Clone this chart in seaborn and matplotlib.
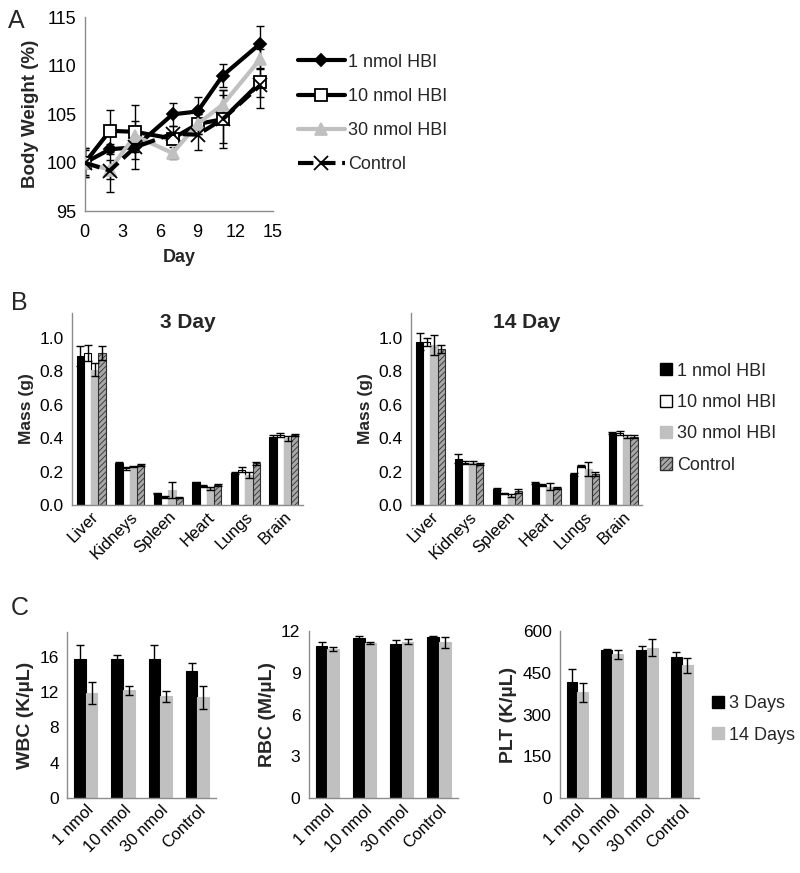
import numpy as np
import pandas as pd
import matplotlib
matplotlib.use('Agg')
import matplotlib.pyplot as plt
import seaborn as sns
from matplotlib.patches import Patch

sns.set_style('white')
plt.rcParams['font.family'] = ['Liberation Sans', 'DejaVu Sans']
plt.rcParams['hatch.linewidth'] = 0.6

# Panel A - body weight over time
days = [0, 2, 4, 7, 9, 11, 14]
bw_1nmol = [100.0, 101.4, 101.6, 105.0, 105.3, 109.0, 112.3]
bw_1nmol_err = [1.3, 0.5, 0.5, 1.2, 1.5, 1.2, 1.8]
bw_10nmol = [100.0, 103.3, 103.2, 102.5, 104.0, 104.5, 108.3]
bw_10nmol_err = [1.5, 2.2, 2.8, 0.5, 1.0, 3.0, 1.5]
bw_30nmol = [100.0, 99.3, 102.8, 101.0, 104.0, 106.0, 110.7]
bw_30nmol_err = [0.5, 1.0, 1.5, 0.6, 1.0, 1.5, 1.0]
bw_control = [100.0, 99.2, 101.6, 103.0, 102.9, 104.5, 108.0]
bw_control_err = [1.5, 2.2, 2.2, 0.8, 1.6, 2.5, 2.3]

# Panel B - organ mass
organs = ['Liver', 'Kidneys', 'Spleen', 'Heart', 'Lungs', 'Brain']
treatments = ['1 nmol HBI', '10 nmol HBI', '30 nmol HBI', 'Control']
mass3_1nmol = [0.89, 0.25, 0.07, 0.135, 0.19, 0.41]
mass3_10nmol = [0.91, 0.22, 0.05, 0.115, 0.21, 0.42]
mass3_30nmol = [0.81, 0.23, 0.09, 0.10, 0.18, 0.40]
mass3_control = [0.91, 0.24, 0.045, 0.12, 0.25, 0.42]
mass3_1nmol_err = [0.06, 0.005, 0.005, 0.005, 0.005, 0.01]
mass3_10nmol_err = [0.05, 0.01, 0.005, 0.005, 0.015, 0.01]
mass3_30nmol_err = [0.04, 0.005, 0.045, 0.01, 0.02, 0.015]
mass3_control_err = [0.04, 0.005, 0.005, 0.005, 0.01, 0.005]

mass14_1nmol = [0.978, 0.278, 0.095, 0.13, 0.183, 0.43]
mass14_10nmol = [0.978, 0.254, 0.07, 0.12, 0.235, 0.43]
mass14_30nmol = [0.96, 0.254, 0.056, 0.11, 0.215, 0.41]
mass14_control = [0.936, 0.246, 0.085, 0.10, 0.185, 0.41]
mass14_1nmol_err = [0.05, 0.028, 0.005, 0.005, 0.01, 0.005]
mass14_10nmol_err = [0.025, 0.01, 0.005, 0.005, 0.005, 0.012]
mass14_30nmol_err = [0.06, 0.01, 0.01, 0.02, 0.04, 0.01]
mass14_control_err = [0.025, 0.005, 0.01, 0.005, 0.01, 0.01]

# Panel C - blood counts
doses = ['1 nmol', '10 nmol', '30 nmol', 'Control']
timepoints = ['3 Days', '14 Days']
wbc_3d = [15.7, 15.7, 15.7, 14.4]
wbc_3d_err = [1.6, 0.5, 1.6, 0.9]
wbc_14d = [11.9, 12.2, 11.5, 11.4]
wbc_14d_err = [1.2, 0.5, 0.6, 1.3]
rbc_3d = [10.9, 11.5, 11.1, 11.6]
rbc_3d_err = [0.35, 0.15, 0.3, 0.05]
rbc_14d = [10.7, 11.15, 11.25, 11.2]
rbc_14d_err = [0.15, 0.1, 0.2, 0.4]
plt_3d = [418, 532, 534, 508]
plt_3d_err = [45, 5, 13, 16]
plt_14d = [380, 517, 541, 478]
plt_14d_err = [35, 16, 31, 27]

AXGRAY = '#8c8c8c'
LIGHT = '#c0c0c0'


def style_axes(ax, size=12):
    sns.despine(ax=ax)
    for s in ['left', 'bottom']:
        ax.spines[s].set_color(AXGRAY)
        ax.spines[s].set_linewidth(1.0)
    ax.tick_params(axis='both', which='both', direction='out', color=AXGRAY,
                   labelsize=size, labelcolor='black')
    ax.tick_params(axis='y', length=4, width=1, pad=2)


def grouped_bars(ax, cats, groups, values, errors, colors, edges, hatches, width):
    df = pd.DataFrame({
        'cat': np.tile(cats, len(groups)),
        'grp': np.repeat(groups, len(cats)),
        'val': np.concatenate(values),
    })
    sns.barplot(data=df, x='cat', y='val', hue='grp', palette=colors,
                width=width, gap=0, legend=False, ax=ax, saturation=1)
    for cont, err, ec, h in zip(ax.containers, errors, edges, hatches):
        for bar, e in zip(cont, err):
            bar.set_edgecolor(ec)
            bar.set_linewidth(0.8)
            if h:
                bar.set_hatch(h)
            ax.errorbar(bar.get_x() + bar.get_width() / 2, bar.get_height(), yerr=e,
                        fmt='none', ecolor='black', elinewidth=1, capsize=3, capthick=1, zorder=5)
    n = len(cats)
    ax.set_xlim(-0.5, n - 0.5)
    ax.set_xticks(np.arange(n + 1) - 0.5, minor=True)
    ax.tick_params(axis='x', which='minor', length=5, width=1)
    ax.tick_params(axis='x', which='major', length=0, pad=3)
    ax.set_xticks(range(n))
    ax.set_xticklabels(cats, rotation=45, ha='right', rotation_mode='anchor')
    ax.set_xlabel('')


fig = plt.figure(figsize=(8.0, 8.73), dpi=100)

# ---- Panel A ----
axA = fig.add_axes([0.106, 0.758, 0.235, 0.222])
series = [
    ('1 nmol HBI', bw_1nmol, bw_1nmol_err, 'black', 'D', 'black', 6, '-'),
    ('10 nmol HBI', bw_10nmol, bw_10nmol_err, 'black', 's', 'white', 9, '-'),
    ('30 nmol HBI', bw_30nmol, bw_30nmol_err, LIGHT, '^', LIGHT, 8, '-'),
    ('Control', bw_control, bw_control_err, 'black', 'x', 'black', 10, '--'),
]
for name, vals, errs, col, mk, mfc, ms, ls in series:
    axA.errorbar(days, vals, yerr=errs, fmt='none', ecolor='black', elinewidth=1,
                 capsize=3, capthick=1, zorder=2)
    sns.lineplot(x=days, y=vals, ax=axA, color=col, linewidth=3, marker=mk,
                 markersize=ms, markerfacecolor=mfc, markeredgecolor=col,
                 markeredgewidth=1.3, linestyle=ls, label=name, zorder=3)
style_axes(axA, 13)
axA.set_xlim(0, 15)
axA.set_ylim(95, 115)
axA.set_xticks(range(0, 16, 3))
axA.set_yticks(range(95, 116, 5))
axA.tick_params(axis='x', length=4, width=1, pad=5)
axA.set_xlabel('Day', fontsize=13, fontweight='bold', labelpad=6)
axA.set_ylabel('Body Weight (%)', fontsize=13.5, fontweight='bold', labelpad=5)
hA, lA = axA.get_legend_handles_labels()
axA.get_legend().remove()
fig.legend(hA, lA, loc='center left', bbox_to_anchor=(0.372, 0.87), frameon=False, fontsize=13,
           handlelength=2.6, labelspacing=0.95, handletextpad=0.2, borderpad=0, borderaxespad=0)
fig.text(0.01, 0.968, 'A', fontsize=18)

# ---- Panel B ----
bar_colors = ['black', 'white', LIGHT, '#a8a8a8']
bar_edges = ['black', 'black', LIGHT, '#303030']
bar_hatches = [None, None, None, '//////']
axB1 = fig.add_axes([0.09, 0.4215, 0.289, 0.22])
axB2 = fig.add_axes([0.514, 0.4215, 0.289, 0.22])
panelsB = [
    (axB1, '3 Day', [mass3_1nmol, mass3_10nmol, mass3_30nmol, mass3_control],
     [mass3_1nmol_err, mass3_10nmol_err, mass3_30nmol_err, mass3_control_err]),
    (axB2, '14 Day', [mass14_1nmol, mass14_10nmol, mass14_30nmol, mass14_control],
     [mass14_1nmol_err, mass14_10nmol_err, mass14_30nmol_err, mass14_control_err]),
]
for ax, title, vals, errs in panelsB:
    grouped_bars(ax, organs, treatments, vals, errs, bar_colors, bar_edges, bar_hatches, 0.75)
    style_axes(ax, 12.5)
    ax.set_ylim(0, 1.15)
    ax.set_yticks(np.arange(0, 1.01, 0.2))
    ax.set_yticklabels([f'{v:.1f}' for v in np.arange(0, 1.01, 0.2)])
    ax.tick_params(axis='x', labelsize=12)
    ax.set_ylabel('Mass (g)', fontsize=12.5, fontweight='bold', labelpad=4)
    ax.set_title(title, fontsize=15, fontweight='bold', y=0.88)
legB = [Patch(facecolor=c, edgecolor=e, hatch=h, label=t)
        for c, e, h, t in zip(bar_colors, bar_edges, bar_hatches, treatments)]
fig.legend(handles=legB, loc='center left', bbox_to_anchor=(0.825, 0.521), frameon=False,
           fontsize=13, handlelength=0.65, handleheight=0.65, labelspacing=0.8,
           handletextpad=0.3, borderpad=0, borderaxespad=0)
fig.text(0.014, 0.645, 'B', fontsize=18)

# ---- Panel C ----
c_colors = ['black', LIGHT]
c_edges = ['black', LIGHT]
axC1 = fig.add_axes([0.084, 0.086, 0.186, 0.19])
axC2 = fig.add_axes([0.386, 0.086, 0.186, 0.191])
axC3 = fig.add_axes([0.70, 0.086, 0.174, 0.191])
panelsC = [
    (axC1, 'WBC (K/\u00b5L)', [wbc_3d, wbc_14d], [wbc_3d_err, wbc_14d_err], 18.8, range(0, 17, 4)),
    (axC2, 'RBC (M/\u00b5L)', [rbc_3d, rbc_14d], [rbc_3d_err, rbc_14d_err], 12, range(0, 13, 3)),
    (axC3, 'PLT (K/\u00b5L)', [plt_3d, plt_14d], [plt_3d_err, plt_14d_err], 600, range(0, 601, 150)),
]
for ax, lab, vals, errs, top, ticks in panelsC:
    grouped_bars(ax, doses, timepoints, vals, errs, c_colors, c_edges, [None, None], 0.62)
    style_axes(ax, 12.5)
    ax.set_ylim(0, top)
    ax.set_yticks(list(ticks))
    ax.tick_params(axis='x', labelsize=12)
    ax.set_ylabel(lab, fontsize=14, fontweight='bold', labelpad=4)
legC = [Patch(facecolor=c, edgecolor=e, label=t) for c, e, t in zip(c_colors, c_edges, timepoints)]
fig.legend(handles=legC, loc='center left', bbox_to_anchor=(0.89, 0.176), frameon=False,
           fontsize=13, handlelength=0.65, handleheight=0.65, labelspacing=0.8,
           handletextpad=0.3, borderpad=0, borderaxespad=0)
fig.text(0.014, 0.296, 'C', fontsize=18)

fig.savefig('out.png', dpi=100)
